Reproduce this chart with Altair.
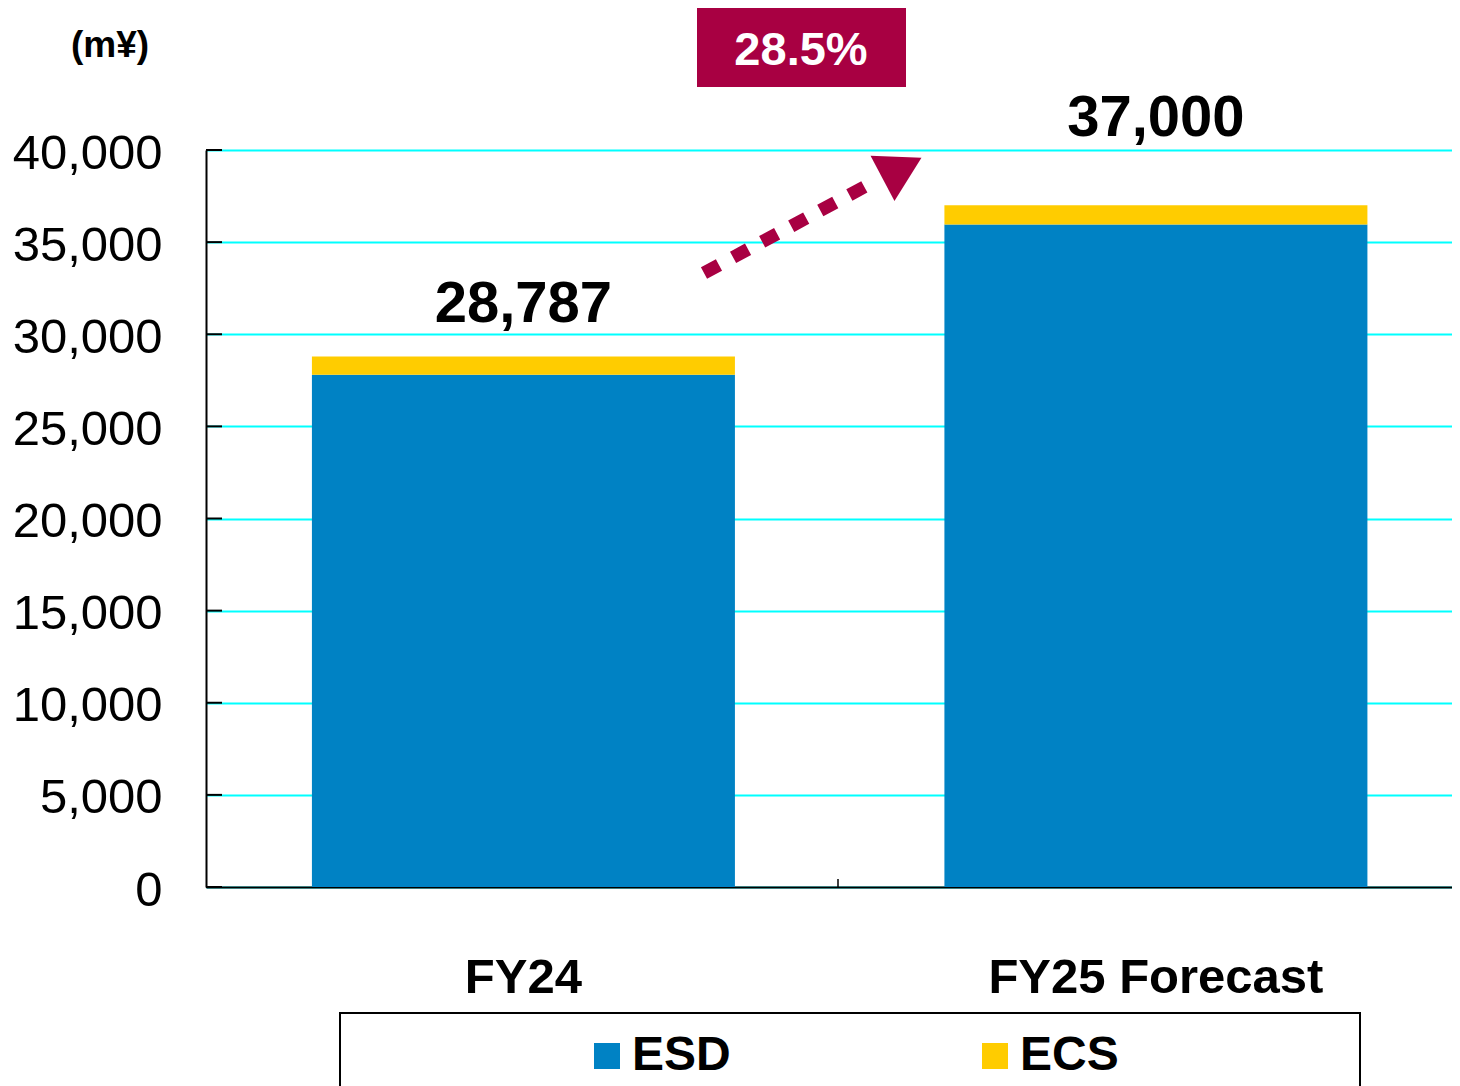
import altair as alt
import pandas as pd

# ---- data ----
categories = ["FY24", "FY25 Forecast"]
esd_values = [27800, 35950]
ecs_values = [987, 1050]
total_values = [28787, 37000]
segments = ["ESD", "ECS"]
segment_colors = ["#0082C4", "#FFCC00"]
y_ticks = [0, 5000, 10000, 15000, 20000, 25000, 30000, 35000, 40000]
growth_label = ["28.5%"]
unit_label = ["(m¥)"]

FONT = "Liberation Sans, Arial"
CRIMSON = "#A80042"

rows = []
for c, e, s in zip(categories, esd_values, ecs_values):
    rows.append({"category": c, "segment": "ESD", "value": e})
    rows.append({"category": c, "segment": "ECS", "value": s})
bars_df = pd.DataFrame(rows)
totals_df = pd.DataFrame({"category": categories, "value": total_values})
ticks_df = pd.DataFrame({"value": y_ticks})
one = pd.DataFrame({"k": [0]})

x_scale = alt.Scale(paddingInner=0.3312, paddingOuter=0.1506, align=0.556)
y_scale = alt.Scale(domain=[0, 40000], nice=False)

x_axis = alt.Axis(labelFont=FONT, labelFontSize=49, labelFontWeight="bold",
                  labelColor="black", labelAngle=0, labelBaseline="alphabetic",
                  labelPadding=105, labelLimit=2000, ticks=False, tickSize=0,
                  domainColor="black", domainWidth=2, grid=False, title=None)
y_axis = alt.Axis(values=y_ticks, labelExpr="format(datum.value, ',')",
                  labelFont=FONT, labelFontSize=49,
                  labelColor="black", labelBaseline="alphabetic", labelOffset=18,
                  labelPadding=44, labelFlush=False, labelOverlap=False,
                  ticks=False, tickSize=0, domainColor="black", domainWidth=2,
                  gridColor="#00FFFF", gridWidth=2, gridOpacity=1, title=None)

def X():
    return alt.X("category:N", sort=categories, title=None, scale=x_scale, axis=x_axis)

def Y(**kw):
    return alt.Y("value:Q", title=None, scale=y_scale, axis=y_axis, **kw)

bars = alt.Chart(bars_df).transform_calculate(
    seg_order="indexof(['ESD','ECS'], datum.segment)"
).mark_bar().encode(
    x=X(),
    y=Y(stack="zero"),
    color=alt.Color("segment:N", sort=segments,
                    scale=alt.Scale(domain=segments, range=segment_colors),
                    legend=alt.Legend(title=None, orient="none", legendX=377, legendY=882,
                                      direction="horizontal", symbolType="square",
                                      symbolSize=676, symbolStrokeWidth=0, symbolOpacity=1,
                                      labelFont=FONT, labelFontSize=48,
                                      labelFontWeight="bold", labelColor="black",
                                      labelOffset=1, columnPadding=240, padding=0)),
    order=alt.Order("seg_order:Q"),
)

# inward y-axis ticks
yticks = alt.Chart(ticks_df).mark_rule(color="black", strokeWidth=2).encode(
    y=Y(), x=alt.value(0), x2=alt.value(16),
)

# inward x-axis category-boundary tick
xtick = alt.Chart(one).mark_rule(color="black", strokeWidth=1.5).encode(
    x=alt.value(632), y=alt.value(729), y2=alt.value(737),
)

def total_label(cat, dy):
    return alt.Chart(totals_df).transform_filter(
        alt.datum.category == cat
    ).mark_text(font=FONT, fontSize=58, fontWeight="bold", color="black",
                baseline="alphabetic", align="center", dy=dy).encode(
        x=X(), y=Y(),
        text=alt.Text("value:Q", format=","),
    )

lab24 = total_label("FY24", -35)
lab25 = total_label("FY25 Forecast", -69)

# growth badge
badge = alt.Chart(one).mark_rect(color=CRIMSON).encode(
    x=alt.value(491), x2=alt.value(700), y=alt.value(-143), y2=alt.value(-63),
)
badge_text = alt.Chart(pd.DataFrame({"t": growth_label})).mark_text(
    font=FONT, fontSize=47, fontWeight="bold", color="white",
    baseline="alphabetic", align="center",
).encode(x=alt.value(595), y=alt.value(-85), text="t:N")

unit_text = alt.Chart(pd.DataFrame({"t": unit_label})).mark_text(
    font=FONT, fontSize=37, fontWeight="bold", color="black",
    baseline="alphabetic", align="center",
).encode(x=alt.value(-96), y=alt.value(-93), text="t:N")

# dotted arrow
arrow_line = alt.Chart(one).mark_rule(
    color=CRIMSON, strokeWidth=13, strokeDash=[17, 16], strokeCap="butt"
).encode(x=alt.value(498), y=alt.value(123), x2=alt.value(660), y2=alt.value(36))
arrow_head = alt.Chart(one).mark_point(
    shape="triangle-up", size=2600, angle=62, filled=True, color=CRIMSON, opacity=1
).encode(x=alt.value(696), y=alt.value(18))

# legend frame
legend_box = alt.Chart(one).mark_rect(
    fillOpacity=0, stroke="black", strokeWidth=2
).encode(x=alt.value(134), x2=alt.value(1154), y=alt.value(863), y2=alt.value(960))

chart = alt.layer(
    bars, yticks, xtick, lab24, lab25, badge, badge_text, unit_text,
    arrow_line, arrow_head, legend_box
).properties(
    width=1246, height=737,
    autosize=alt.AutoSizeParams(type="none"),
    padding={"left": 198, "top": 142, "right": 0, "bottom": 199},
    background="white",
).configure_view(stroke=None)

chart.save("out.html", embed_options={"renderer": "svg", "actions": False})
